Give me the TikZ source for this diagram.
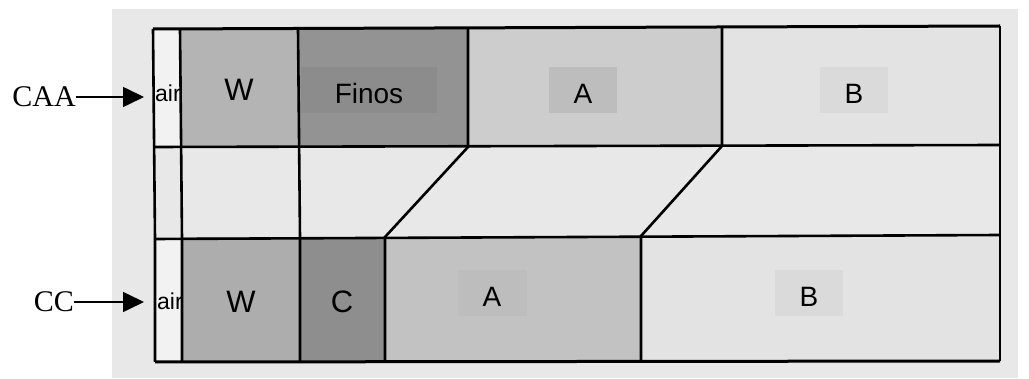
\documentclass[tikz,border=0pt]{standalone}
\usepackage{fontspec}
\setmainfont{Liberation Serif}
\newfontfamily\arialf{Liberation Sans}
\usetikzlibrary{arrows.meta}
\definecolor{bg}{HTML}{E8E8E8}
\definecolor{airc}{HTML}{F2F2F2}
\definecolor{wtop}{HTML}{B4B4B4}
\definecolor{wbot}{HTML}{ADADAD}
\definecolor{finc}{HTML}{939393}
\definecolor{cc}{HTML}{8E8E8E}
\definecolor{atop}{HTML}{CDCDCD}
\definecolor{abot}{HTML}{C2C2C2}
\definecolor{bc}{HTML}{E3E3E3}
\definecolor{finlab}{HTML}{8C8C8C}
\definecolor{alab}{HTML}{BDBDBD}
\definecolor{blab}{HTML}{DADADA}
\tikzset{
  lab/.style={font=\arialf\fontsize{28}{30}\selectfont, inner sep=0pt, minimum height=46pt, text height=27pt, text depth=0pt},
  big/.style={font=\arialf\fontsize{31}{33}\selectfont, inner sep=0pt},
  side/.style={font=\fontsize{30}{32}\selectfont, inner sep=0pt},
  arr/.style={line width=1.6pt, -{Triangle[length=21pt,width=20pt]}},
  sep/.style={line width=2.6pt},
  airtxt/.style={font=\arialf\fontsize{23}{25}\selectfont, anchor=base west, inner sep=0pt}
}
\begin{document}
\begin{tikzpicture}[x=1pt,y=-1pt]
\useasboundingbox (0,0) rectangle (1029,379);
\fill[bg] (112,9) rectangle (1018,378);
% top row cells
\fill[airc] (153,29) rectangle (180,147);
\fill[wtop] (180,29) rectangle (298,147);
\fill[finc] (298,29) rectangle (468,147);
\fill[atop] (468,29) rectangle (722,147);
\fill[bc] (722,29) rectangle (1000,147);
% bottom row cells
\fill[airc] (155,237) rectangle (182,362);
\fill[wbot] (182,237) rectangle (300,362);
\fill[cc] (300,237) rectangle (385,362);
\fill[abot] (385,237) rectangle (641,362);
\fill[bc] (641,237) rectangle (1000,362);
% air labels clipped
\begin{scope}
\clip (153,29) rectangle (180,147);
\node[airtxt] (airtop) at (155,102) {air};
\end{scope}
\begin{scope}
\clip (155,237) rectangle (182,362);
\node[airtxt] (airbot) at (157,310) {air};
\end{scope}
% coordinates
\coordinate (t0) at (153,29); \coordinate (t1) at (180,29); \coordinate (t2) at (298,29);
\coordinate (t3) at (468,29); \coordinate (t4) at (722,28); \coordinate (t5) at (1000,26);
\coordinate (m0) at (153,147); \coordinate (m1) at (180,147); \coordinate (m2) at (298,147);
\coordinate (m3) at (468,147); \coordinate (m4) at (722,146); \coordinate (m5) at (1000,145);
\coordinate (n0) at (155,239); \coordinate (n1) at (182,239); \coordinate (n2) at (300,238);
\coordinate (n3) at (385,237); \coordinate (n4) at (641,236); \coordinate (n5) at (1000,235);
\coordinate (b0) at (155,362); \coordinate (b1) at (182,362); \coordinate (b2) at (300,362);
\coordinate (b3) at (385,362); \coordinate (b4) at (641,362); \coordinate (b5) at (1000,361);
% lines
\draw[sep, line width=3pt] (t0) -- (t5);
\draw[sep] (m0) -- (m5);
\draw[sep] (n0) -- (n5);
\draw[sep, line width=3pt] (b0) -- (b5);
\draw[sep] (t0) -- (n0) -- (b0);
\draw[sep] (t1) -- (n1) -- (b1);
\draw[sep] (t2) -- (n2) -- (b2);
\draw[sep] (t3) -- (m3) -- (n3) -- (b3);
\draw[sep] (t4) -- (m4) -- (n4) -- (b4);
\draw[sep, line width=2pt] (t5) -- (b5);
% labels
\node[big] (w1) at (239,90) {W};
\node[lab, fill=finlab, minimum width=136pt] (fin) at (369,90) {Finos};
\node[lab, fill=alab, minimum width=68pt] (a1) at (583,90) {A};
\node[lab, fill=blab, minimum width=68pt] (b1l) at (854,90) {B};
\node[big] (w2) at (241,302) {W};
\node[big] (c2) at (342,302) {C};
\node[lab, fill=alab, minimum width=69pt] (a2) at (492,293) {A};
\node[lab, fill=blab, minimum width=68pt] (b2l) at (809,293) {B};
% side labels
\node[side, anchor=east] (caa) at (76,97) {CAA};
\node[side, anchor=east] (ccl) at (74,302) {CC};
\coordinate (caaend) at (144,97);
\coordinate (ccend) at (144,302);
\draw[arr] (caa.east) -- (caaend);
\draw[arr] (ccl.east) -- (ccend);
\end{tikzpicture}
\end{document}
